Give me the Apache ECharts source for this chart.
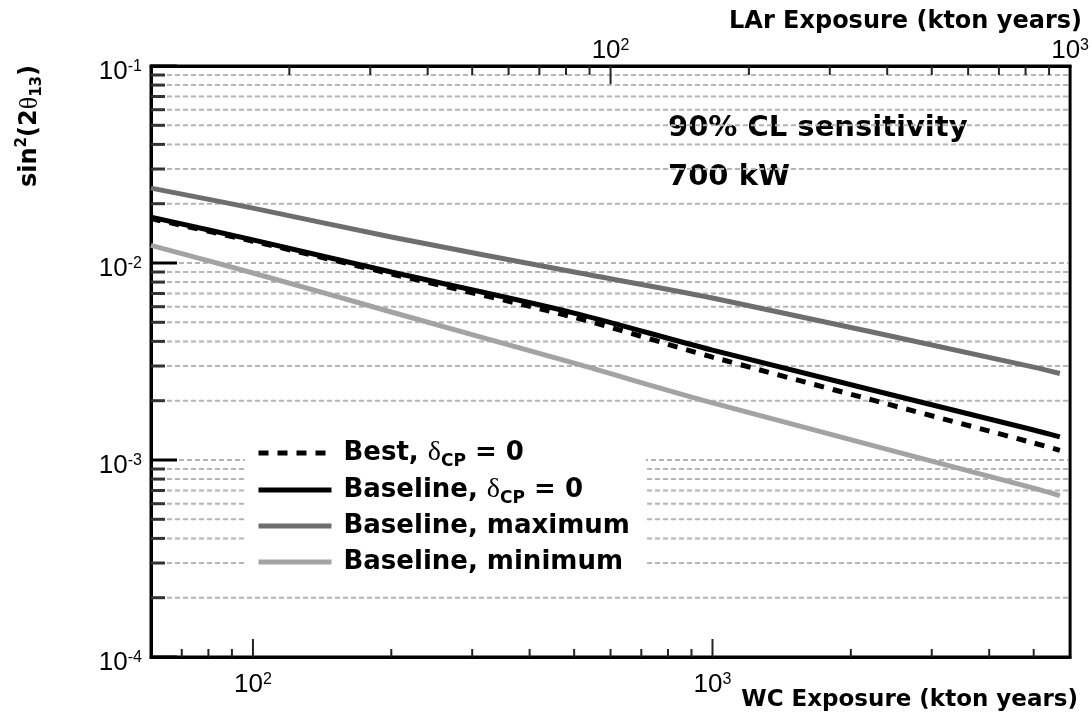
<!DOCTYPE html>
<html><head><meta charset="utf-8">
<script src="https://cdn.jsdelivr.net/npm/echarts@6/dist/echarts.min.js"></script>
<style>html,body{margin:0;padding:0;background:#fff}#c{width:1092px;height:723px}</style>
</head><body><div id="c"></div>
<script>
// ---- data ----
var wcExposure   = [60, 100, 200, 500, 1000, 5000, 5700];
var bestCP0      = [0.0168, 0.0129, 0.0088, 0.0053, 0.00333, 0.00122, 0.00112];
var baselineCP0  = [0.0171, 0.0131, 0.0090, 0.00557, 0.00361, 0.00142, 0.00131];
var baselineMax  = [0.0240, 0.0190, 0.01355, 0.0090, 0.00664, 0.00296, 0.00275];
var baselineMin  = [0.0123, 0.0089, 0.00564, 0.0031, 0.00195, 0.00072, 0.00066];
var seriesNames  = ['Best', 'Baseline', 'Baseline, maximum', 'Baseline, minimum'];
// tick positions
var yTicks   = [0.0001,0.0002,0.0003,0.0004,0.0005,0.0006,0.0007,0.0008,0.0009,
                0.001,0.002,0.003,0.004,0.005,0.006,0.007,0.008,0.009,
                0.01,0.02,0.03,0.04,0.05,0.06,0.07,0.08,0.09,0.1];
var wcTicks  = [70,80,90,100,200,300,400,500,600,700,800,900,1000,2000,3000,4000,5000];
var larTicks = [20,30,40,50,60,70,80,90,100,200,300,400,500,600,700,800,900];

var WC_MIN = 60, WC_MAX = 6000, LAR_MIN = 10, LAR_MAX = 1000, Y_MIN = 1e-4, Y_MAX = 0.1;
var FONT = 'Liberation Sans';
var BOLD = 'DejaVu Sans';

function pair(xs, ys) { return xs.map(function (x, i) { return [x, ys[i]]; }); }
function isPow10(v) { var e = Math.log10(v); return Math.abs(e - Math.round(e)) < 1e-6; }
function expLabel(v) {
  if (!isPow10(v)) return '';
  return '{b|10}{s|' + Math.round(Math.log10(v)) + '}';
}
var labelRich = {
  b: { fontSize: 26, lineHeight: 26, fontFamily: FONT, color: '#000' },
  s: { fontSize: 16, lineHeight: 16, fontFamily: FONT, color: '#000', verticalAlign: 'top' }
};

var chart = echarts.init(document.getElementById('c'), null, { renderer: 'canvas' });

function renderYTick(params, api) {
  var v = api.value(1);
  var p = api.coord([WC_MIN, v]);
  var cs = params.coordSys;
  var major = isPow10(v);
  var len = major ? 26 : 14;
  var ch = [{ type: 'line', shape: { x1: cs.x, y1: p[1], x2: cs.x + len, y2: p[1] },
              style: { stroke: major ? '#000' : '#333', lineWidth: 3 } }];
  if (v > Y_MIN * 1.01 && v < Y_MAX * 0.99) {
    ch.push({ type: 'line', shape: { x1: cs.x + len + 2, y1: p[1], x2: cs.x + cs.width - 2, y2: p[1] },
              style: { stroke: '#b4b4b4', lineWidth: 2, lineDash: [5, 3] } });
  }
  return { type: 'group', children: ch };
}
function renderBottomTick(params, api) {
  var v = api.value(0);
  var p = api.coord([v, Y_MIN]);
  var len = isPow10(v) ? 18 : 8;
  return { type: 'line', shape: { x1: p[0], y1: p[1], x2: p[0], y2: p[1] - len },
           style: { stroke: '#222', lineWidth: 2 } };
}
function renderTopTick(params, api) {
  var v = api.value(0);
  var p = api.coord([v, Y_MAX]);
  var len = isPow10(v) ? 18 : 9;
  return { type: 'line', shape: { x1: p[0], y1: p[1], x2: p[0], y2: p[1] + len },
           style: { stroke: '#222', lineWidth: 2 } };
}

var legendRich = {
  g: { width: 7, fontSize: 26, lineHeight: 34 },
  t: { fontSize: 26, lineHeight: 34, fontWeight: 'bold', fontFamily: BOLD, color: '#000' },
  d: { fontSize: 28, lineHeight: 34, fontFamily: 'Liberation Serif', color: '#000' },
  c: { fontSize: 17, lineHeight: 17, fontWeight: 'bold', fontFamily: BOLD, color: '#000', verticalAlign: 'bottom' }
};
var legendText = {
  'Best': '{g| }{t|Best, }{d|δ}{c|CP}{t| = 0}',
  'Baseline': '{g| }{t|Baseline, }{d|δ}{c|CP}{t| = 0}',
  'Baseline, maximum': '{g| }{t|Baseline, maximum}{c|\u00a0}',
  'Baseline, minimum': '{g| }{t|Baseline, minimum}{c|\u00a0}'
};

var option = {
  backgroundColor: '#fff',
  animation: false,
  grid: { left: 151, right: 20, top: 66, bottom: 66, show: true, borderColor: '#000', borderWidth: 3 },
  xAxis: [
    { type: 'log', logBase: 10, min: WC_MIN, max: WC_MAX, position: 'bottom',
      axisLine: { show: true, lineStyle: { color: '#000', width: 3 } },
      axisTick: { show: false }, splitLine: { show: false }, minorTick: { show: false },
      axisLabel: { margin: 15, showMinLabel: false, showMaxLabel: false, formatter: expLabel, rich: labelRich } },
    { type: 'log', logBase: 10, min: LAR_MIN, max: LAR_MAX, position: 'top',
      axisLine: { show: true, lineStyle: { color: '#000', width: 3 } },
      axisTick: { show: false }, splitLine: { show: false },
      axisLabel: { margin: 2, showMinLabel: false, showMaxLabel: true, formatter: expLabel, rich: labelRich } }
  ],
  yAxis: [
    { type: 'log', logBase: 10, min: Y_MIN, max: Y_MAX,
      axisLine: { show: true, lineStyle: { color: '#000', width: 3 } },
      axisTick: { show: false }, splitLine: { show: false },
      axisLabel: { margin: 9, padding: [12, 0, 0, 0], formatter: expLabel, rich: labelRich } }
  ],
  legend: {
    data: seriesNames,
    orient: 'vertical', left: 245, top: 430,
    padding: [9, 10, 6, 11],
    backgroundColor: '#fff',
    itemWidth: 73, itemHeight: 14, itemGap: 6,
    selectedMode: false,
    itemStyle: { opacity: 0, borderWidth: 0 },
    lineStyle: { width: 5 },
    formatter: function (n) { return legendText[n]; },
    textStyle: { rich: legendRich, color: '#000' }
  },
  series: [
    { type: 'custom', coordinateSystem: 'cartesian2d', xAxisIndex: 0, yAxisIndex: 0, silent: true, z: 1,
      data: yTicks.map(function (v) { return [WC_MIN, v]; }), renderItem: renderYTick },
    { type: 'custom', coordinateSystem: 'cartesian2d', xAxisIndex: 0, yAxisIndex: 0, silent: true, z: 1,
      data: wcTicks.map(function (v) { return [v, Y_MIN]; }), renderItem: renderBottomTick },
    { type: 'custom', coordinateSystem: 'cartesian2d', xAxisIndex: 1, yAxisIndex: 0, silent: true, z: 1,
      data: larTicks.map(function (v) { return [v, Y_MAX]; }), renderItem: renderTopTick },
    { name: seriesNames[2], type: 'line', data: pair(wcExposure, baselineMax), symbol: 'none', smooth: 0.3, z: 3,
      lineStyle: { color: '#6e6e6e', width: 5 }, itemStyle: { color: '#6e6e6e' } },
    { name: seriesNames[3], type: 'line', data: pair(wcExposure, baselineMin), symbol: 'none', smooth: 0.3, z: 3,
      lineStyle: { color: '#a3a3a3', width: 5 }, itemStyle: { color: '#a3a3a3' } },
    { name: seriesNames[1], type: 'line', data: pair(wcExposure, baselineCP0), symbol: 'none', smooth: 0.3, z: 4,
      lineStyle: { color: '#000', width: 5 }, itemStyle: { color: '#000' } },
    { name: seriesNames[0], type: 'line', data: pair(wcExposure, bestCP0), symbol: 'none', smooth: 0.3, z: 5,
      lineStyle: { color: '#000', width: 5, type: [10, 9] }, itemStyle: { color: '#000' } }
  ],
  graphic: [
    { type: 'text', x: 30, y: 126, rotation: Math.PI / 2,
      style: { text: '{t|sin}{p|2}{t|(2}{h|θ}{b|13}{t|)}', align: 'center', verticalAlign: 'middle',
        rich: {
          t: { fontSize: 24, lineHeight: 30, fontWeight: 'bold', fontFamily: BOLD, color: '#000' },
          h: { fontSize: 26, lineHeight: 30, fontFamily: 'Liberation Serif', color: '#000' },
          p: { fontSize: 15, lineHeight: 15, fontWeight: 'bold', fontFamily: BOLD, color: '#000', verticalAlign: 'top' },
          b: { fontSize: 15, lineHeight: 15, fontWeight: 'bold', fontFamily: BOLD, color: '#000', verticalAlign: 'bottom' }
        } } },
    { type: 'text', right: 10, top: 10,
      style: { text: 'LAr Exposure (kton years)', font: 'bold 24px "DejaVu Sans"', fill: '#000' } },
    { type: 'text', right: 14, top: 689,
      style: { text: 'WC Exposure (kton years)', font: 'bold 23px "DejaVu Sans"', fill: '#000' } },
    { type: 'text', left: 668, top: 114,
      style: { text: '90% CL sensitivity', font: 'bold 29px "DejaVu Sans"', fill: '#000' } },
    { type: 'text', left: 668, top: 163,
      style: { text: '700 kW', font: 'bold 29px "DejaVu Sans"', fill: '#000' } }
  ]
};
chart.setOption(option);
</script></body></html>
